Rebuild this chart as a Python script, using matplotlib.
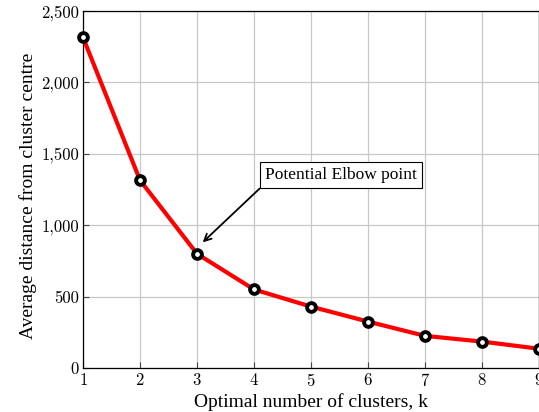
import matplotlib
matplotlib.use("Agg")
from matplotlib import pyplot as plt
from matplotlib.ticker import FuncFormatter

k = [1, 2, 3, 4, 5, 6, 7, 8, 9]
avg_dist = [2315, 1315, 800, 550, 430, 325, 225, 185, 135]
xticks = [1, 2, 3, 4, 5, 6, 7, 8, 9]
yticks = [0, 500, 1000, 1500, 2000, 2500]

plt.rcParams['font.family'] = ['cmr10', 'DejaVu Serif']
plt.rcParams['mathtext.fontset'] = 'cm'
plt.rcParams['axes.formatter.use_mathtext'] = True
label_font = ['Liberation Serif', 'DejaVu Serif']

fig = plt.figure(figsize=(5.39, 4.12), dpi=100)
ax = fig.add_axes([83/539, 44/412, 456/539, 357/412])

ax.plot(k, avg_dist, color='red', lw=3, marker='o', ms=6.3,
        mfc='white', mec='black', mew=2.8, zorder=3, clip_on=False)

ax.set_xlim(1, 9)
ax.set_ylim(0, 2500)
ax.set_xticks(xticks)
ax.set_yticks(yticks)
ax.yaxis.set_major_formatter(FuncFormatter(lambda v, p: '{:,}'.format(int(v))))
ax.grid(True, color='#c8c8c8', lw=0.9)
ax.set_axisbelow(True)
ax.tick_params(direction='in', length=4, width=0.8, color='#444444',
               labelsize=12, top=False, right=False, pad=3)
for s in ax.spines.values():
    s.set_linewidth(0.9)

ax.set_xlabel('Optimal number of clusters, k', fontsize=14, family=label_font, labelpad=3)
ax.set_ylabel('Average distance from cluster centre', fontsize=14, family=label_font)
ax.yaxis.set_label_coords(-0.100, 0.482)

ax.annotate('Potential Elbow point', xy=(3.1, 880), xytext=(5.53, 1350),
            fontsize=12.5, family=label_font, ha='center', va='center',
            bbox=dict(boxstyle='square,pad=0.3', fc='white', ec='black', lw=0.8),
            arrowprops=dict(arrowstyle='->', color='black', lw=1.3,
                            shrinkA=0, shrinkB=0,
                            relpos=(0.0, 0.0)))

fig.savefig('out.png', dpi=100)
